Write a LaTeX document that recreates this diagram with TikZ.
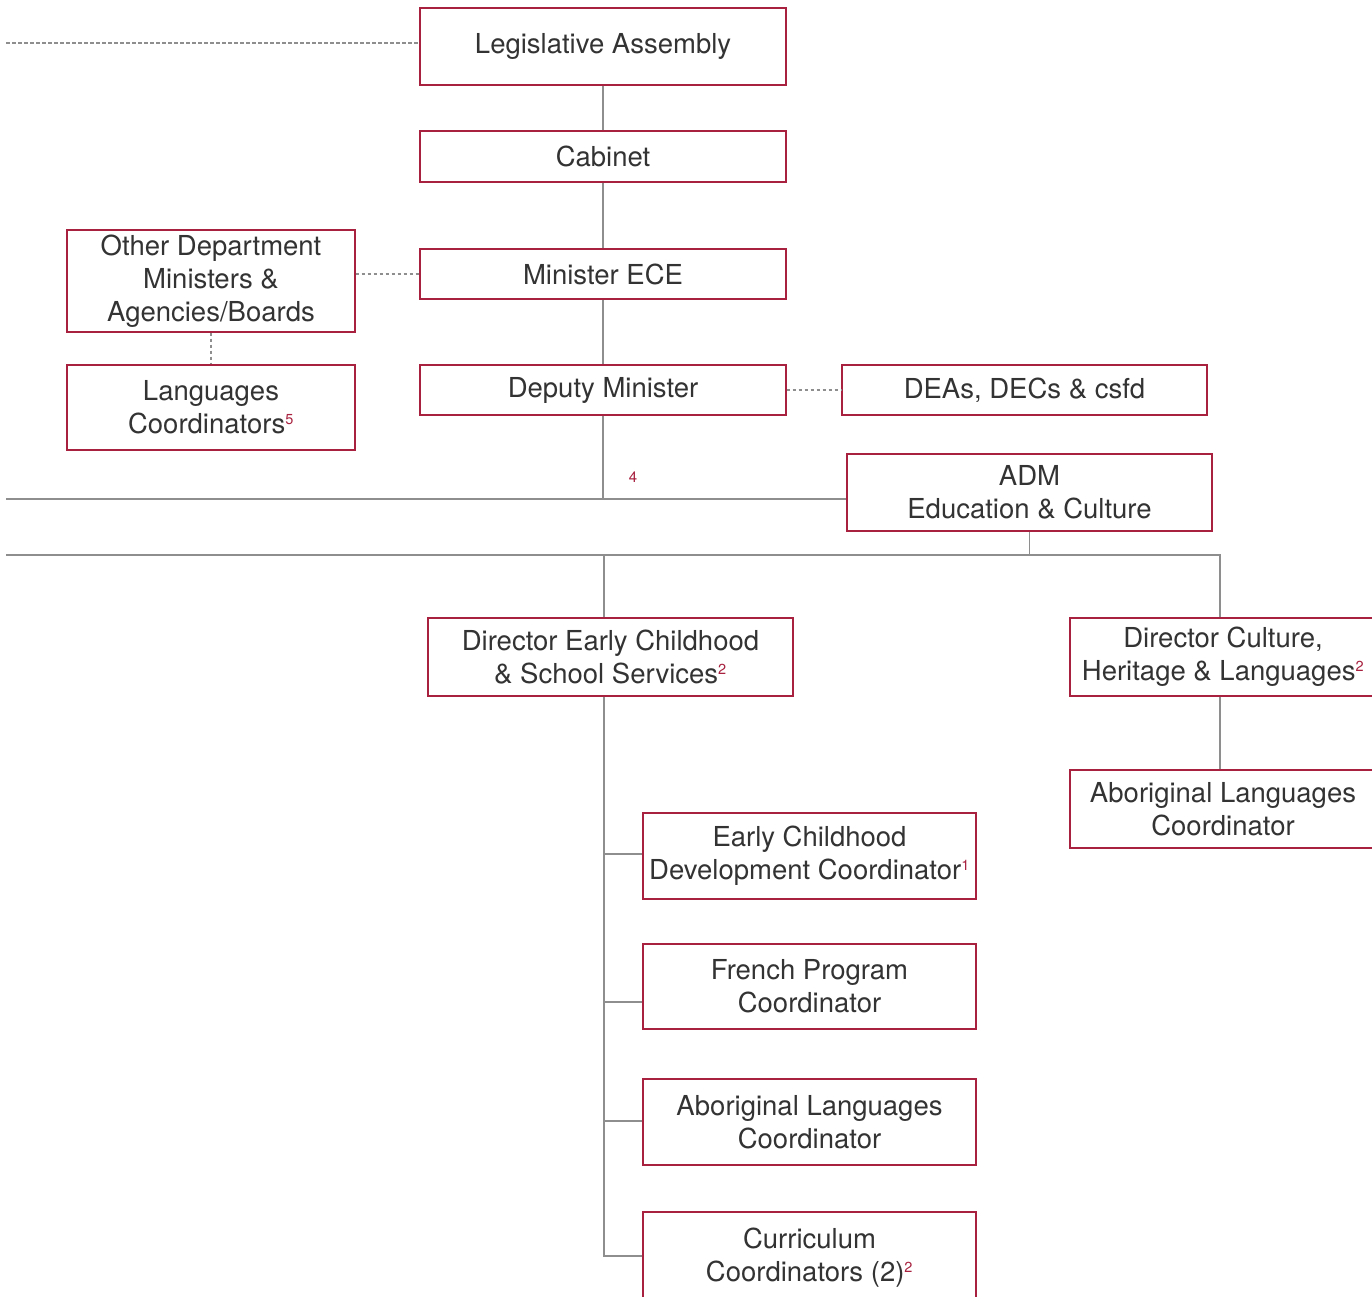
\documentclass[tikz,border=0pt]{standalone}
\usepackage{fontspec}
\setmainfont{TeX Gyre Heros}
\definecolor{boxred}{HTML}{A8213F}
\definecolor{linegray}{HTML}{8E8E8E}
\definecolor{txt}{HTML}{333333}
\tikzset{
  orgbox/.style={draw=boxred, line width=1.3pt, fill=white, inner sep=0pt, align=center,
    text=txt, font=\fontsize{27.5}{33}\selectfont, rectangle},
  conn/.style={draw=linegray, line width=1.3pt},
  dashconn/.style={draw=linegray, line width=1.3pt, dash pattern=on 3.5pt off 2.5pt},
  fn/.style={text=boxred, font=\fontsize{15}{16}\selectfont, inner sep=0pt}
}
\newcommand{\fnm}[1]{\textsuperscript{\color{boxred}\fontsize{14.5}{15}\selectfont #1}}
\begin{document}
\begin{tikzpicture}[x=1pt,y=-1pt]
\useasboundingbox (0,0) rectangle (1372,1296);
\clip (0,0) rectangle (1372,1296);
\fill[white] (0,0) rectangle (1372,1296);
% boxes
\node[orgbox, minimum width=366pt, minimum height=77pt] (leg) at (603,46.5) {Legislative Assembly};
\node[orgbox, minimum width=366pt, minimum height=51pt] (cab) at (603,156.5) {Cabinet};
\node[orgbox, minimum width=366pt, minimum height=50pt] (min) at (603,274) {Minister ECE};
\node[orgbox, minimum width=366pt, minimum height=50pt] (dep) at (603,390) {Deputy Minister};
\node[orgbox, minimum width=288pt, minimum height=102pt] (oth) at (211,281) {Other Department\\Ministers \&\\Agencies/Boards};
\node[orgbox, minimum width=288pt, minimum height=85pt] (lco) at (211,407.5) {Languages\\Coordinators\fnm{5}};
\node[orgbox, minimum width=365pt, minimum height=50pt] (dea) at (1024.5,390) {DEAs, DECs \& csfd};
\node[orgbox, minimum width=365pt, minimum height=77pt] (adm) at (1029.5,492.5) {ADM\\Education \& Culture};
\node[orgbox, minimum width=365pt, minimum height=78pt] (dec) at (610.5,657) {Director Early Childhood\\\& School Services\fnm{2}};
\node[orgbox, minimum width=306pt, minimum height=78pt] (dcu) at (1223,657) {Director Culture,\\Heritage \& Languages\fnm{2}};
\node[orgbox, minimum width=306pt, minimum height=78pt] (alr) at (1223,809) {Aboriginal Languages\\Coordinator};
\node[orgbox, minimum width=333pt, minimum height=86pt] (ecd) at (809.5,856) {Early Childhood\\Development Coordinator\fnm{1}};
\node[orgbox, minimum width=333pt, minimum height=85pt] (fpc) at (809.5,986.5) {French Program\\Coordinator};
\node[orgbox, minimum width=333pt, minimum height=86pt] (alc) at (809.5,1122) {Aboriginal Languages\\Coordinator};
\node[orgbox, minimum width=333pt, minimum height=92pt] (cur) at (809.5,1258) {Curriculum\\Coordinators (2)\fnm{2}};
% helper coordinates
\coordinate (la) at (6,43);
\coordinate (h1) at (6,499);
\coordinate (h2) at (6,555);
\coordinate (b1) at (604,854);
\coordinate (b2) at (604,1002);
\coordinate (b3) at (604,1121);
\coordinate (b4) at (604,1256);
% connectors
\draw[dashconn] (la) -- (la -| leg.west);
\draw[conn] (leg.south) -- (cab.north);
\draw[conn] (cab.south) -- (min.north);
\draw[conn] (min.south) -- (dep.north);
\draw[conn] (dep.south) -- (dep.south |- h1);
\draw[conn] (h1) -- (h1 -| adm.west);
\draw[dashconn] (oth.east |- min.west) -- (min.west);
\draw[dashconn] (oth.south) -- (lco.north);
\draw[dashconn] (dep.east) -- (dea.west);
\draw[conn] (adm.south) -- (adm.south |- h2);
\draw[conn] (h2) -- (h2 -| 1220,0) -- (1220,0 |- dcu.north);
\draw[conn] (b1 |- h2) -- (b1 |- dec.north);
\draw[conn] (1220,0 |- dcu.south) -- (1220,0 |- alr.north);
\draw[conn] (b1 |- dec.south) -- (b4) -- (b4 -| cur.west);
\draw[conn] (b1) -- (b1 -| ecd.west);
\draw[conn] (b2) -- (b2 -| fpc.west);
\draw[conn] (b3) -- (b3 -| alc.west);
\node[fn] (n4) at (633,477) {4};
\end{tikzpicture}
\end{document}
